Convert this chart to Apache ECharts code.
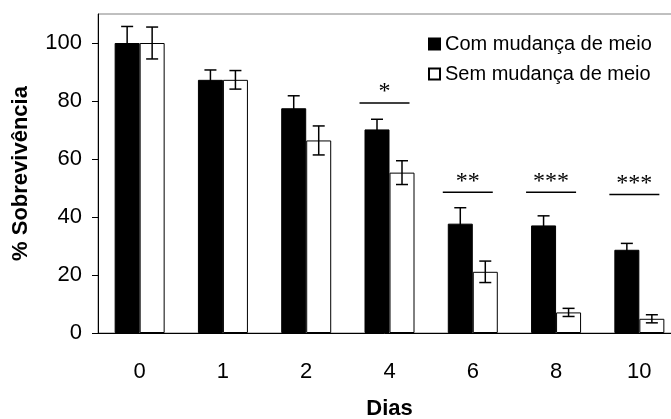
<!DOCTYPE html>
<html><head><meta charset="utf-8">
<script src="https://cdn.jsdelivr.net/npm/echarts@6/dist/echarts.min.js"></script>
<style>html,body{margin:0;padding:0;background:#fff}#c{width:671px;height:419px}</style>
</head><body><div id="c"></div>
<script>
const categories = ['0', '1', '2', '4', '6', '8', '10'];
const comValues = [100, 87.3, 77.5, 70.2, 37.7, 37.1, 28.7];
const comErrors = [5.7, 3.4, 4.3, 3.5, 5.5, 3.3, 2.2];
const semValues = [100, 87.3, 66.4, 55.3, 21.1, 7.1, 4.9];
const semErrors = [5.5, 3.2, 5.0, 4.1, 3.7, 1.4, 1.4];
const yTicks = [0, 20, 40, 60, 80, 100];
const sigCategories = [3, 4, 5, 6];
const sigHeights = [79.3, 48.5, 48.5, 47.8];
const sigLabels = ['*', '**', '***', '***'];
const seriesNames = ['Com mudança de meio', 'Sem mudança de meio'];

const chart = echarts.init(document.getElementById('c'), null, {renderer: 'canvas'});
const font = 'Liberation Sans, Arial, sans-serif';

function errorSeries(values, errors, offset) {
  return {
    type: 'custom',
    silent: true,
    z: 5,
    data: values.map((v, i) => [i, v, errors[i]]),
    renderItem: function (params, api) {
      const i = api.value(0), v = api.value(1), e = api.value(2);
      const top = api.coord([i, v + e]);
      const bot = api.coord([i, v - e]);
      const x = top[0] + offset;
      const cap = 6;
      const style = {stroke: '#000', lineWidth: 1.5};
      return {type: 'group', children: [
        {type: 'line', shape: {x1: x, y1: top[1], x2: x, y2: bot[1]}, style},
        {type: 'line', shape: {x1: x - cap, y1: top[1], x2: x + cap, y2: top[1]}, style},
        {type: 'line', shape: {x1: x - cap, y1: bot[1], x2: x + cap, y2: bot[1]}, style}
      ]};
    }
  };
}

const option = {
  animation: false,
  backgroundColor: '#fff',
  grid: {left: 98, top: 14, width: 583, height: 319, show: true, borderColor: '#808080', borderWidth: 1,
         containLabel: false, outerBoundsMode: 'none'},
  legend: {
    orient: 'vertical', left: 423, top: 29, itemGap: 10,
    itemWidth: 11, itemHeight: 11, icon: 'rect',
    textStyle: {fontFamily: font, fontSize: 20, color: '#000'},
    data: seriesNames
  },
  xAxis: {
    type: 'category', data: categories,
    axisLine: {lineStyle: {color: '#000', width: 1}},
    axisTick: {length: 7, lineStyle: {color: '#000'}},
    axisLabel: {fontFamily: font, fontSize: 22, color: '#000', margin: 28},
    name: 'Dias', nameLocation: 'middle', nameGap: 65,
    nameTextStyle: {fontFamily: font, fontSize: 22, fontWeight: 'bold', color: '#000'}
  },
  yAxis: {
    type: 'value', min: 0, max: 110,
    axisLine: {show: true, lineStyle: {color: '#000', width: 1}},
    axisTick: {show: true, length: 6, lineStyle: {color: '#000'}, customValues: yTicks},
    axisLabel: {fontFamily: font, fontSize: 22, color: '#000', margin: 16, customValues: yTicks},
    splitLine: {show: false},
    name: '% Sobrevivência', nameLocation: 'middle', nameGap: 66, nameRotate: 90,
    nameTextStyle: {fontFamily: font, fontSize: 22, fontWeight: 'bold', color: '#000'}
  },
  series: [
    {name: seriesNames[0], type: 'bar', data: comValues, barWidth: 25, barGap: '0%',
     itemStyle: {color: '#000', borderColor: '#000', borderWidth: 1}},
    {name: seriesNames[1], type: 'bar', data: semValues, barWidth: 25, barGap: '0%',
     itemStyle: {color: '#fff', borderColor: '#000', borderWidth: 1}},
    errorSeries(comValues, comErrors, -12.5),
    errorSeries(semValues, semErrors, 12.5),
    {
      type: 'custom', silent: true, z: 6,
      data: sigCategories.map((c, k) => [c, sigHeights[k], k]),
      renderItem: function (params, api) {
        const c = api.coord([api.value(0), api.value(1)]);
        const k = api.value(2);
        const x = c[0] - 5, y = c[1];
        return {type: 'group', children: [
          {type: 'line', shape: {x1: x - 25, y1: y, x2: x + 25, y2: y}, style: {stroke: '#000', lineWidth: 1.5}},
          {type: 'text', x: x, y: y + 1, style: {text: sigLabels[k], fontFamily: 'Liberation Serif, Times New Roman, serif', fontSize: 24, fill: '#000', align: 'center', verticalAlign: 'bottom'}}
        ]};
      }
    }
  ]
};
chart.setOption(option);
</script></body></html>
